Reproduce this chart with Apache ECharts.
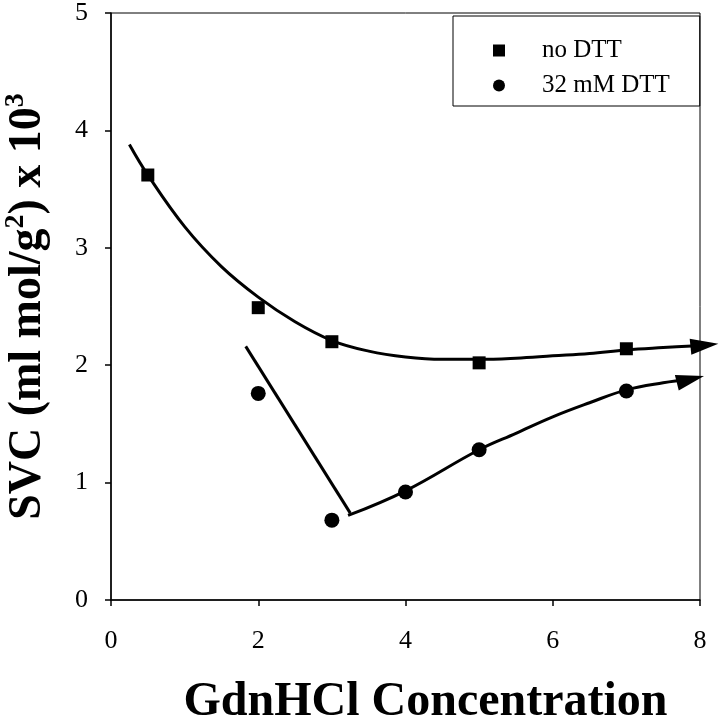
<!DOCTYPE html>
<html>
<head>
<meta charset="utf-8">
<script src="https://cdn.jsdelivr.net/npm/echarts@6/dist/echarts.min.js"></script>
<style>
html,body{margin:0;padding:0;background:#fff;}
#chart{width:720px;height:718px;}
</style>
</head>
<body>
<div id="chart"></div>
<script>
// Measured points
const xNoDTT = [0.5, 2, 3, 5, 7];
const yNoDTT = [3.62, 2.49, 2.20, 2.02, 2.14];
const xDTT = [2, 3, 4, 5, 7];
const yDTT = [1.76, 0.68, 0.92, 1.28, 1.78];

// Hand-drawn trend curves
const upperX = [0.25, 0.5, 1, 1.5, 2, 2.5, 3, 3.5, 4, 4.5, 5, 5.5, 6, 6.5, 7, 7.5, 8.06];
const upperY = [3.88, 3.62, 3.18, 2.84, 2.58, 2.37, 2.21, 2.12, 2.07, 2.05, 2.05, 2.06, 2.08, 2.10, 2.13, 2.15, 2.17];
const dropX = [1.83, 3.25];
const dropY = [2.16, 0.74];
const riseX = [3.22, 4, 5, 5.5, 6, 6.5, 7, 7.5, 7.87];
const riseY = [0.72, 0.93, 1.28, 1.42, 1.56, 1.68, 1.79, 1.85, 1.88];

const xTicks = [0, 2, 4, 6, 8];
const yTicks = [0, 1, 2, 3, 4, 5];

const FONT = '"Liberation Serif", "Times New Roman", serif';

function pairs(xs, ys) { return xs.map((x, i) => [x, ys[i]]); }
function withArrow(xs, ys, rot) {
  const d = pairs(xs, ys);
  const last = d.length - 1;
  d[last] = { value: d[last], symbol: 'triangle', symbolSize: [16, 28], symbolRotate: rot };
  return d;
}

const chart = echarts.init(document.getElementById('chart'));
chart.setOption({
  backgroundColor: '#fff',
  animation: false,
  grid: { left: 111, right: 20, top: 13, bottom: 118, show: true, borderColor: '#000', borderWidth: 1, containLabel: false, outerBoundsMode: 'none' },
  legend: {
    left: 453, top: 16, orient: 'vertical',
    borderColor: '#000', borderWidth: 1,
    padding: [22, 30, 8, 40],
    itemGap: 10, itemWidth: 12, itemHeight: 12,
    textStyle: { fontFamily: FONT, fontSize: 25, color: '#000', padding: [0, 0, 0, 32] },
    data: [{ name: 'no DTT', icon: 'rect' }, { name: '32 mM DTT', icon: 'circle' }]
  },
  xAxis: {
    type: 'value', min: xTicks[0], max: xTicks[xTicks.length - 1], interval: 2,
    name: 'GdnHCl Concentration', nameLocation: 'middle', nameGap: 79,
    nameTextStyle: { fontFamily: FONT, fontSize: 48, fontWeight: 'bold', color: '#000', padding: [0, 0, 0, 40] },
    axisLine: { lineStyle: { color: '#000', width: 1.5 } },
    axisTick: { show: true, length: 6, lineStyle: { color: '#000', width: 1.5 } },
    axisLabel: { fontFamily: FONT, fontSize: 26, color: '#000', margin: 28 },
    splitLine: { show: false }
  },
  yAxis: {
    type: 'value', min: yTicks[0], max: yTicks[yTicks.length - 1], interval: 1,
    name: 'SVC (ml mol/g{s|2}) x 10{s|3}', nameLocation: 'middle', nameGap: 57,
    nameTextStyle: {
      fontFamily: FONT, fontSize: 46, fontWeight: 'bold', color: '#000', lineHeight: 52,
      rich: { s: { fontFamily: FONT, fontSize: 28, fontWeight: 'bold', color: '#000', lineHeight: 30, verticalAlign: 'top' } }
    },
    axisLine: { lineStyle: { color: '#000', width: 1.5 } },
    axisTick: { show: true, length: 6, lineStyle: { color: '#000', width: 1.5 } },
    axisLabel: { fontFamily: FONT, fontSize: 26, color: '#000', margin: 23 },
    splitLine: { show: false }
  },
  series: [
    {
      name: 'no DTT', type: 'scatter', symbol: 'rect', symbolSize: 13,
      itemStyle: { color: '#000', opacity: 1 }, z: 5,
      data: pairs(xNoDTT, yNoDTT)
    },
    {
      name: '32 mM DTT', type: 'scatter', symbol: 'circle', symbolSize: 15,
      itemStyle: { color: '#000', opacity: 1 }, z: 5,
      data: pairs(xDTT, yDTT)
    },
    {
      name: 'fit-upper', type: 'line', smooth: 0.4, clip: false,
      symbol: 'none', showSymbol: true, showAllSymbol: true,
      lineStyle: { color: '#000', width: 3 }, itemStyle: { color: '#000', opacity: 1 },
      data: withArrow(upperX, upperY, -84)
    },
    {
      name: 'fit-drop', type: 'line', clip: false, symbol: 'none',
      lineStyle: { color: '#000', width: 3 },
      data: pairs(dropX, dropY)
    },
    {
      name: 'fit-rise', type: 'line', smooth: 0.4, clip: false,
      symbol: 'none', showSymbol: true, showAllSymbol: true,
      lineStyle: { color: '#000', width: 3 }, itemStyle: { color: '#000', opacity: 1 },
      data: withArrow(riseX, riseY, -76)
    }
  ]
});
</script>
</body>
</html>
